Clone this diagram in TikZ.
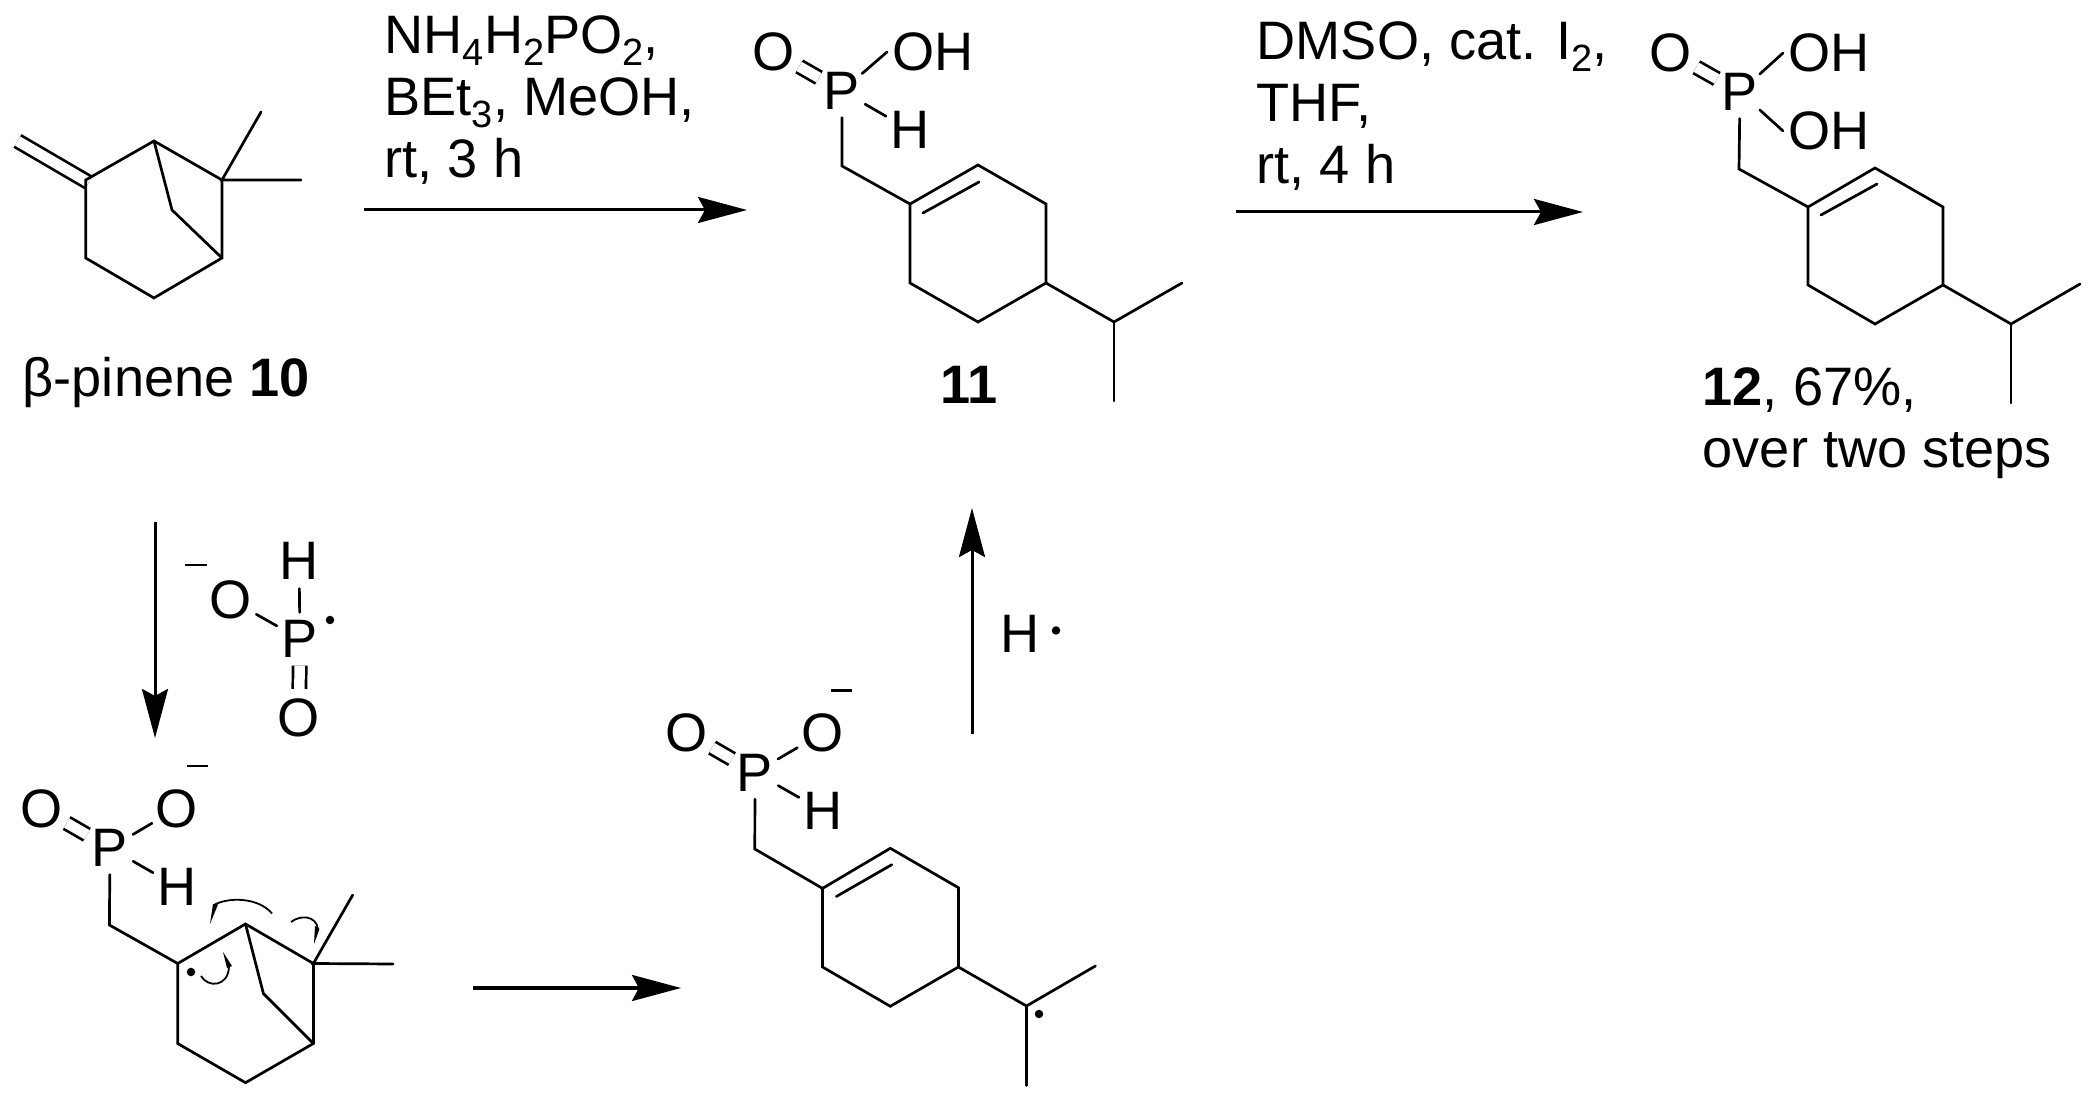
\documentclass[tikz,border=0pt]{standalone}
\usepackage{fontspec}
\setmainfont{Liberation Sans}
\usetikzlibrary{arrows.meta}
\newcommand{\sbs}[1]{\raisebox{-0.12cm}{\fontsize{10.8}{12}\selectfont #1}}
\tikzset{
	bond/.style={line width=0.027cm, line cap=round},
	dbond/.style={line width=0.027cm, double, double distance=0.105cm},
	rxn/.style={line width=0.03cm, -{Stealth[length=0.49cm, width=0.26cm, inset=0.07cm]}},
	atom/.style={circle, inner sep=0pt, font=\fontsize{15.4}{17.6}\selectfont},
	chain/.style={inner sep=0.05cm, font=\fontsize{15.4}{17.6}\selectfont},
	txt/.style={inner sep=0pt, align=left, font=\fontsize{15.4}{17.6}\selectfont},
	hook/.style={line width=0.018cm},
	barb/.style={fill=black, draw=none},
	lone/.style={fill=black, circle, inner sep=0pt, minimum size=0.085cm}
}
\begin{document}
\begin{tikzpicture}[x=0.01cm,y=-0.01cm]
	\useasboundingbox (0,0) rectangle (2100,1095);

	\coordinate (ch2p) at (17.5,141);
	\coordinate (c2p) at (88.6,182.5);
	\coordinate (pa) at (85.7,180);
	\coordinate (pb) at (154,141);
	\coordinate (pc) at (222,180);
	\coordinate (pd) at (222,258);
	\coordinate (pe) at (154,298);
	\coordinate (pf) at (85.7,258);
	\coordinate (pg) at (172,210);
	\coordinate (ph) at (261,112);
	\coordinate (pi) at (301,180);
	\draw [dbond] (ch2p) -- (c2p);
	\draw [bond] (pa) -- (pb) -- (pc) -- (pd) -- (pe) -- (pf) -- cycle;
	\draw [bond] (pb) -- (pg) -- (pd);
	\draw [bond] (ph) -- (pc) -- (pi);
	\node [txt, anchor=base west] (lab10) at (22,397) {β-pinene \textbf{10}};

	\coordinate (r1s) at (364,210);
	\coordinate (r1e) at (747,210);
	\draw [rxn] (r1s) -- (r1e);
	\node [txt, anchor=north west] (reag1) at (384,15) {NH\sbs{4}H\sbs{2}PO\sbs{2},\\BEt\sbs{3}, MeOH,\\rt, 3 h};

	\node [atom] (p11) at (842,91) {P};
	\node [atom] (o11) at (774,52) {O};
	\node [chain, anchor=west] (oh11) at (887,52) {OH};
	\node [atom] (h11) at (910,130) {H};
	\coordinate (ch11) at (842,166);
	\coordinate (a11) at (910,204);
	\coordinate (b11) at (978,165);
	\coordinate (c11) at (1046,204);
	\coordinate (d11) at (1046,283);
	\coordinate (e11) at (978,322);
	\coordinate (f11) at (910,283);
	\coordinate (g11) at (923,213);
	\coordinate (k11) at (979,182);
	\coordinate (m11) at (1114,322);
	\coordinate (n11) at (1182,283);
	\coordinate (q11) at (1114,401);
	\draw [dbond] (p11) -- (o11);
	\draw [bond] (p11) -- (oh11.west);
	\draw [bond] (p11) -- (h11);
	\draw [bond] (p11) -- (ch11) -- (a11);
	\draw [bond] (a11) -- (b11) -- (c11) -- (d11) -- (e11) -- (f11) -- cycle;
	\draw [bond] (g11) -- (k11);
	\draw [bond] (d11) -- (m11) -- (n11);
	\draw [bond] (m11) -- (q11);
	\node [txt, anchor=base] (lab11) at (969,404) {\textbf{11}};

	\coordinate (r2s) at (1236,212);
	\coordinate (r2e) at (1583,212);
	\draw [rxn] (r2s) -- (r2e);
	\node [txt, anchor=north west] (reag2) at (1256,21) {DMSO, cat. I\sbs{2},\\THF,\\rt, 4 h};

	\node [atom] (p12) at (1740,92) {P};
	\node [atom] (o12) at (1671,53) {O};
	\node [chain, anchor=west] (oha12) at (1783,53) {OH};
	\node [chain, anchor=west] (ohb12) at (1783,131) {OH};
	\coordinate (ch12) at (1739,169);
	\coordinate (a12) at (1808,207);
	\coordinate (b12) at (1875,168);
	\coordinate (c12) at (1943,207);
	\coordinate (d12) at (1943,285);
	\coordinate (e12) at (1875,324);
	\coordinate (f12) at (1808,285);
	\coordinate (g12) at (1821,215);
	\coordinate (k12) at (1877,184);
	\coordinate (m12) at (2011,324);
	\coordinate (n12) at (2080,284);
	\coordinate (q12) at (2011,403);
	\draw [dbond] (p12) -- (o12);
	\draw [bond] (p12) -- (oha12.west);
	\draw [bond] (p12) -- (ohb12.west);
	\draw [bond] (p12) -- (ch12) -- (a12);
	\draw [bond] (a12) -- (b12) -- (c12) -- (d12) -- (e12) -- (f12) -- cycle;
	\draw [bond] (g12) -- (k12);
	\draw [bond] (d12) -- (m12) -- (n12);
	\draw [bond] (m12) -- (q12);
	\node [txt, anchor=north west] (lab12) at (1702,367) {\textbf{12}, 67\%,\\over two steps};

	\coordinate (r3s) at (155,522);
	\coordinate (r3e) at (155,738);
	\draw [rxn] (r3s) -- (r3e);
	\node [atom] (hr) at (299,561) {H};
	\node [atom] (or) at (231,600) {O};
	\node [atom] (pr) at (300,639) {P};
	\node [atom] (odr) at (299,718) {O};
	\coordinate (mra) at (185,565);
	\coordinate (mrb) at (207,565);
	\draw [bond, line cap=butt] (mra) -- (mrb);
	\draw [bond] (pr) -- (hr);
	\draw [bond] (pr) -- (or);
	\draw [dbond] (pr) -- (odr);
	\node [lone] (dotr) at (330,620) {};

	\node [atom] (pa1) at (110,848) {P};
	\node [atom] (oa1) at (41.5,808.5) {O};
	\node [atom] (oa2) at (177,808.5) {O};
	\node [atom] (ha1) at (177,886.5) {H};
	\coordinate (maa) at (187,766);
	\coordinate (mab) at (208,766);
	\coordinate (cha) at (109.4,925);
	\coordinate (aa) at (177.7,963.5);
	\coordinate (ab) at (245.5,924);
	\coordinate (ac) at (313.4,963.5);
	\coordinate (ad) at (313.4,1043.5);
	\coordinate (ae) at (245.5,1082.7);
	\coordinate (af) at (177.7,1043.5);
	\coordinate (ag) at (263.4,993.5);
	\coordinate (ah) at (352.7,895);
	\coordinate (ai) at (393,964);
	\draw [bond, line cap=butt] (maa) -- (mab);
	\draw [dbond] (pa1) -- (oa1);
	\draw [bond] (pa1) -- (oa2);
	\draw [bond] (pa1) -- (ha1);
	\draw [bond] (pa1) -- (cha) -- (aa);
	\draw [bond] (aa) -- (ab) -- (ac) -- (ad) -- (ae) -- (af) -- cycle;
	\draw [bond] (ab) -- (ag) -- (ad);
	\draw [bond] (ah) -- (ac) -- (ai);
	\node [lone] (dota) at (191,972) {};

	\draw [hook] (272,913.5) .. controls (258,897) and (228,897) .. (214,905);
	\path [barb] (210,924) -- (213,904) -- (218,904.5) -- cycle;
	\draw [hook] (291,922) .. controls (300,915) and (316,915) .. (318,929);
	\path [barb] (314,944) -- (315,926) -- (319.5,929) -- cycle;
	\draw [hook] (201,976) .. controls (208,988) and (228,987) .. (229,967);
	\path [barb] (223,952) -- (232,966) -- (227,968) -- cycle;

	\coordinate (r4s) at (473,988);
	\coordinate (r4e) at (681,988);
	\draw [rxn] (r4s) -- (r4e);

	\node [atom] (pb1) at (755,772.5) {P};
	\node [atom] (ob1) at (687,733) {O};
	\node [atom] (ob2) at (822.5,733) {O};
	\node [atom] (hb1) at (823,811) {H};
	\coordinate (mba) at (831,690.6);
	\coordinate (mbb) at (852,690.6);
	\coordinate (chb) at (754.8,849);
	\coordinate (ba) at (822.5,888.4);
	\coordinate (bb) at (890.3,848.3);
	\coordinate (bc) at (958.4,887.7);
	\coordinate (bd) at (958.4,967);
	\coordinate (be) at (890.3,1006.3);
	\coordinate (bf) at (822.5,967);
	\coordinate (bg) at (836.3,896.5);
	\coordinate (bk) at (891.8,864.7);
	\coordinate (bm) at (1026.5,1006);
	\coordinate (bn) at (1095.4,966);
	\coordinate (bq) at (1026.5,1085.5);
	\draw [bond, line cap=butt] (mba) -- (mbb);
	\draw [dbond] (pb1) -- (ob1);
	\draw [bond] (pb1) -- (ob2);
	\draw [bond] (pb1) -- (hb1);
	\draw [bond] (pb1) -- (chb) -- (ba);
	\draw [bond] (ba) -- (bb) -- (bc) -- (bd) -- (be) -- (bf) -- cycle;
	\draw [bond] (bg) -- (bk);
	\draw [bond] (bd) -- (bm) -- (bn);
	\draw [bond] (bm) -- (bq);
	\node [lone] (dotb) at (1039,1014) {};

	\coordinate (r5s) at (972,734);
	\coordinate (r5e) at (972,508);
	\draw [rxn] (r5s) -- (r5e);
	\node [atom] (hh) at (1020,634) {H};
	\node [lone] (doth) at (1056,630.5) {};
\end{tikzpicture}
\end{document}
